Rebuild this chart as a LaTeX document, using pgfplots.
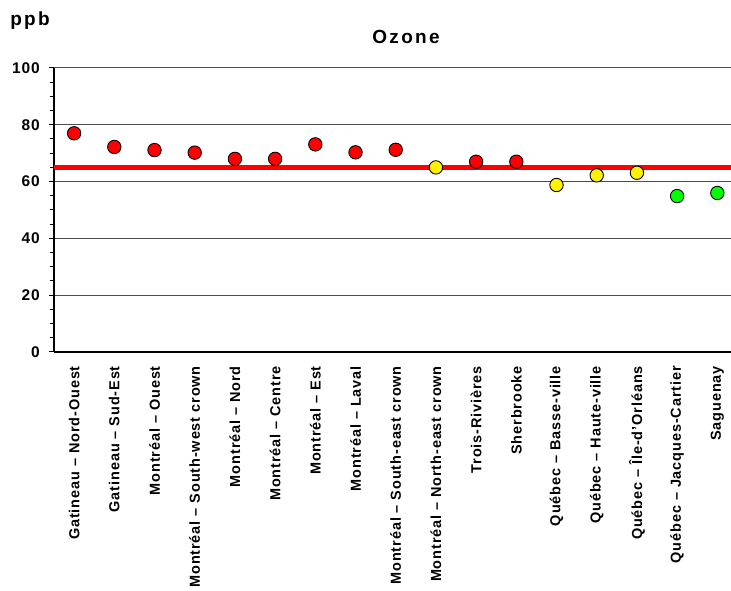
\documentclass[border=0pt]{standalone}
\usepackage{pgfplots}
\pgfplotsset{compat=1.18}
\usepackage{fontspec}
\setmainfont{Liberation Sans}[LetterSpace=6]
\newfontfamily\titlefont{Liberation Sans}[LetterSpace=12]
\begin{document}
\begin{tikzpicture}
\useasboundingbox (0pt,0pt) rectangle (731pt,591pt);
\begin{axis}[
  at={(54pt,239pt)}, anchor=south west,
  scale only axis, width=677pt, height=284pt,
  xmin=-0.5, xmax=16.34, ymin=0, ymax=100,
  axis x line*=bottom, axis y line*=left,
  axis line style={black, line width=1.1pt},
  clip=false,
  xtick={0,...,16},
  xticklabels={Gatineau – Nord-Ouest, Gatineau – Sud-Est, Montréal – Ouest, Montréal – South-west crown, Montréal – Nord, Montréal – Centre, Montréal – Est, Montréal – Laval, Montréal – South-east crown, Montréal – North-east crown, Trois-Rivières, Sherbrooke, Québec – Basse-ville, Québec – Haute-ville, Québec – Île-d'Orléans, Québec – Jacques-Cartier, Saguenay},
  x tick style={draw=none},
  extra x ticks={-0.5,0.5,1.5,2.5,3.5,4.5,5.5,6.5,7.5,8.5,9.5,10.5,11.5,12.5,13.5,14.5,15.5},
  extra x tick labels={},
  extra x tick style={tick style={draw=black, line width=1pt}, major tick length=5pt, tick align=outside, xmajorgrids=false},
  xticklabel style={rotate=90, anchor=east, inner sep=0pt, font=\bfseries\fontsize{14.5}{14.5}\selectfont},
  xticklabel shift=9pt,
  ytick={0,20,...,100},
  minor y tick num=3,
  y tick style={black, line width=1pt},
  tick align=outside,
  major tick length=5pt,
  minor tick length=4pt,
  ymajorgrids,
  grid style={black!70, line width=1pt},
  yticklabel style={inner sep=0pt, font=\bfseries\fontsize{15.5}{15.5}\selectfont},
  yticklabel shift=9pt,
  /pgf/number format/assume math mode=true,
]
\addplot[only marks, mark=*, mark size=6.7pt, mark options={fill=red, draw=black, line width=0.9pt}]
  coordinates {(0,77) (1,72.2) (2,71.1) (3,70.2) (4,68) (5,68) (6,73.1) (7,70.3) (8,71.2) (10,67) (11,67)};
\addplot[only marks, mark=*, mark size=6.7pt, mark options={fill=yellow, draw=black, line width=0.9pt}]
  coordinates {(9,65) (12,58.8) (13,62.2) (14,63.1)};
\addplot[only marks, mark=*, mark size=6.7pt, mark options={fill=green, draw=black, line width=0.9pt}]
  coordinates {(15,54.9) (16,56)};
\addplot[red, line width=4.3pt] coordinates {(-0.5,65) (16.34,65)};
\end{axis}
\node[font=\titlefont\bfseries\fontsize{19}{19}\selectfont] at (406pt,554pt) {Ozone};
\node[font=\titlefont\bfseries\fontsize{19}{19}\selectfont] at (30pt,570pt) {ppb};
\end{tikzpicture}
\end{document}
